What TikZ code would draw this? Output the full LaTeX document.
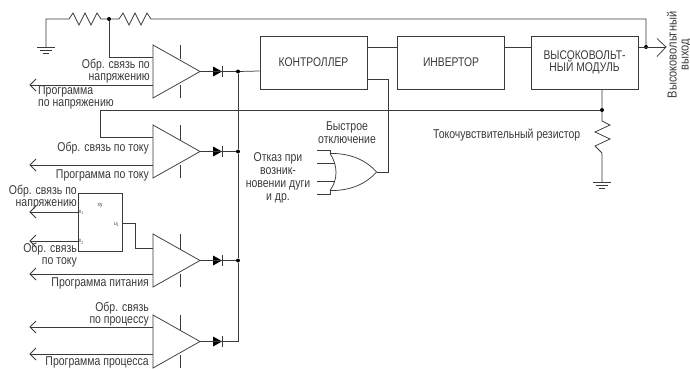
\documentclass[tikz,border=0pt]{standalone}
\usepackage{fontspec}
\setmainfont[FakeStretch=0.82]{Liberation Sans}
\newfontfamily\widefont[FakeStretch=0.85]{Liberation Sans}
\definecolor{ink}{HTML}{3A3A3A}
\tikzset{
  wire/.style={draw=ink,line width=0.75pt,line join=miter},
  dotn/.style={circle,fill=black,inner sep=0pt,minimum size=4pt},
  blockbox/.style={draw=ink,line width=0.75pt,minimum width=107pt,minimum height=53pt,inner sep=0pt,text=ink,font=\fontsize{12.6}{12.5}\selectfont,align=center},
  lab/.style={inner sep=0pt,text=ink,font=\fontsize{12.8}{12}\selectfont,align=right,anchor=east},
  labl/.style={inner sep=0pt,text=ink,font=\fontsize{12.8}{12}\selectfont,align=left,anchor=west},
  labc/.style={inner sep=0pt,text=ink,font=\fontsize{12.8}{13}\selectfont,align=center},
  tiny/.style={inner sep=0pt,text=ink,font=\fontsize{6}{6}\selectfont},
  pics/opamp/.style={code={
    \draw[wire] (0,-26.5) -- (0,26.5) -- (47,0) -- cycle;
    \draw[wire] (27,-26.5) -- (27,-12);
    \draw[wire] (27,13) -- (27,26.5);
    \fill[black] (60,-5) -- (69,0) -- (60,5) -- cycle;
    \draw[wire] (69,-5.5) -- (69,5.5);
    \draw[wire] (47,0) -- (69,0);
    \coordinate (-out) at (69,0);
  }},
  pics/chev/.style={code={
    \draw[wire] (6,-6) -- (0,0) -- (6,6);
  }},
  pics/gnd/.style={code={
    \draw[wire] (-9,0) -- (9,0);
    \draw[wire] (-6,3) -- (6,3);
    \draw[wire] (-3,6) -- (3,6);
  }},
}
\begin{document}
\begin{tikzpicture}[x=1pt,y=-1pt]
\useasboundingbox (0,0) rectangle (690,369);
% blocks
\node[blockbox] (ctl) at (313.5,62.5) {КОНТРОЛЛЕР};
\node[blockbox] (inv) at (451,62.5) {ИНВЕРТОР};
\node[blockbox] (hv) at (584.5,62.5) {ВЫСОКОВОЛЬТ-\\НЫЙ МОДУЛЬ};
\path (ctl.east |- 0,47) coordinate (c1) (inv.west |- 0,47) coordinate (i1)
      (inv.east |- 0,47) coordinate (i2) (hv.west |- 0,47) coordinate (h1)
      (hv.east |- 0,47) coordinate (h2) (ctl.east |- 0,79) coordinate (c2)
      (ctl.west |- 0,71) coordinate (c0) (602,89) coordinate (h3);
\draw[wire] (c1) -- (i1);
\draw[wire] (i2) -- (h1);
% amplifiers
\pic (a1) at (153,71.5) {opamp};
\pic (a2) at (153,151.5) {opamp};
\pic (a3) at (153,260.5) {opamp};
\pic (a4) at (153,341.5) {opamp};
\node[dotn] (d1) at (238,71.5) {};
\node[dotn] (d2) at (238,151.5) {};
\node[dotn] (d3) at (238,260.5) {};
\coordinate (d4) at (238,341.5);
\draw[wire] (a1-out) -- (d1) -- (c0);
\draw[wire] (a2-out) -- (d2);
\draw[wire] (a3-out) -- (d3);
\draw[wire] (a4-out) -- (d4) -- (d3) -- (d2) -- (d1);
% top feedback
\coordinate (g1) at (46,47);
\coordinate (tl) at (46,19);
\node[dotn] (r0) at (109,19) {};
\node[dotn] (o0) at (646,47) {};
\coordinate (o1) at (666,47);
\coordinate (o2) at (646,19);
\draw[wire] (g1) -- (tl) -- (69,19) -- (73,13) -- (79,25) -- (85,13) -- (91,25) -- (97,13) -- (101,19) -- (r0)
  -- (119,19) -- (123,13) -- (129,25) -- (135,13) -- (141,25) -- (147,13) -- (151,19) -- (o2) -- (o0);
\pic at (g1) {gnd};
\draw[wire] (h2) -- (o1);
\draw[wire] (657,38.5) -- (o1) -- (657,56.5);
\draw[wire] (r0) |- (153,57);
% current sense
\node[dotn] (s0) at (602,110) {};
\coordinate (g2) at (602,182);
\draw[wire] (h3) -- (s0) -- (602,121) -- (610,125) -- (595,132) -- (610,139) -- (595,146) -- (602,153) -- (g2);
\pic at (g2) {gnd};
\draw[wire] (s0) -- (100,110) -- (100,137) -- (153,137);
% left lines
\coordinate (l1) at (30,85);
\coordinate (l2) at (30,165);
\coordinate (l3) at (30,212);
\coordinate (l4) at (30,241);
\coordinate (l5) at (30,274);
\coordinate (l6) at (30,327);
\coordinate (l7) at (30,354);
\draw[wire] (153,85) -- (l1);
\draw[wire] (153,165) -- (l2);
\draw[wire] (78,212) -- (l3);
\draw[wire] (78,241) -- (l4);
\draw[wire] (153,274) -- (l5);
\draw[wire] (153,327) -- (l6);
\draw[wire] (153,354) -- (l7);
\foreach \c in {l1,l2,l3,l4,l5,l6,l7} \pic at (\c) {chev};
% xy block
\node[draw=ink,line width=0.75pt,minimum width=44pt,minimum height=58pt,inner sep=0pt] (xy) at (100,222) {};
\node[tiny] (xyl) at (100,206) {xy};
\node[tiny] (x1) at (81,212.5) {x\raisebox{-1.5pt}{\fontsize{4}{4}\selectfont 1}};
\node[tiny] (x2) at (81,242) {x\raisebox{-1.5pt}{\fontsize{4}{4}\selectfont 2}};
\node[tiny] (u1) at (116.5,224.5) {u\raisebox{-1.5pt}{\fontsize{4}{4}\selectfont 1}};
\draw[wire] (xy.east |- 0,223) -- (135,223) -- (135,248) -- (153,248);
% OR gate
\coordinate (orout) at (376.5,172);
\draw[wire] (330,153.5) .. controls (338,165) and (338,180) .. (330,190.5);
\draw[wire] (330,153.5) .. controls (350,153) and (366,160) .. (orout) .. controls (366,184) and (350,191) .. (330,190.5);
\draw[wire] (317,150) -- (330,150) -- (330,153.5);
\draw[wire] (317,163) -- (335,163);
\draw[wire] (317,181) -- (335,181);
\draw[wire] (317,194) -- (330,194) -- (330,190.5);
\draw[wire] (c2) -- (388,79) -- (388,172) -- (orout);
% labels
\node[lab] (t1) at (150,71) {Обр. связь по\\напряжению};
\node[labl] (t2) at (38,97.5) {Программа\\по напряжению};
\node[lab] (t3) at (149,148) {Обр. связь по току};
\node[lab] (t4) at (149,175) {Программа по току};
\node[lab] (t5) at (77,197.5) {Обр. связь по\\напряжению};
\node[lab] (t6) at (77,255) {Обр. связь\\по току};
\node[lab] (t7) at (149,283) {Программа питания};
\node[lab] (t8) at (149,314.5) {Обр. связь\\по процессу};
\node[lab] (t9) at (149,362) {Программа процесса};
\node[labc] (t10) at (347,132.5) {Быстрое\\отключение};
\node[labc] (t11) at (278,177.5) {Отказ при\\возник-\\новении дуги\\и др.};
\node[labl] (t12) at (433,135) {Токочувствительный резистор};
\node[labc,rotate=90,font=\widefont\fontsize{13}{12}\selectfont] (t13) at (679,55) {Высоковольтный\\выход};
\end{tikzpicture}
\end{document}
